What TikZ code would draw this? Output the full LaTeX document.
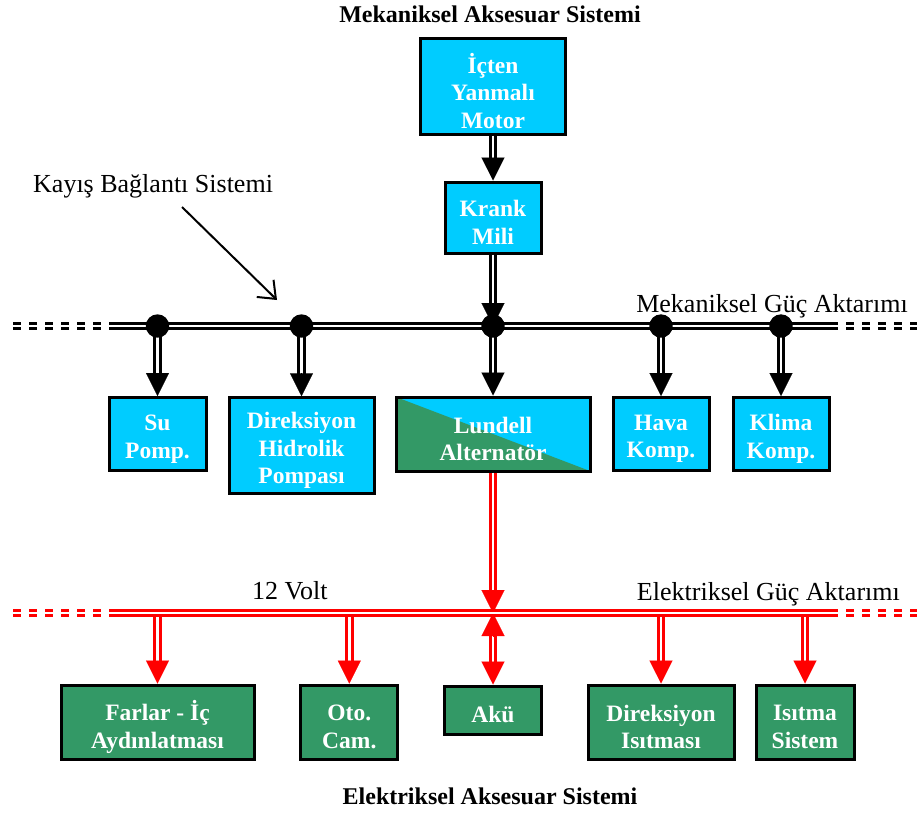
\documentclass[tikz,border=0pt]{standalone}
\usepackage{fontspec}
\setmainfont{Liberation Serif}
\usetikzlibrary{arrows.meta,calc}
\definecolor{cyanc}{RGB}{0,204,255}
\definecolor{greenc}{RGB}{51,153,102}
\newcommand\boxfont{\bfseries\fontsize{23.5}{27.5}\selectfont}
\newcommand\titlefont{\bfseries\fontsize{24}{28}\selectfont}
\newcommand\labfont{\fontsize{26}{30}\selectfont}
\newcommand\myarrow[3]{%
  \draw[#1line, shorten >=21pt] (#2) -- (#3);
  \draw[#1head] ($(#3)!23pt!(#2)$) -- (#3);}
\tikzset{
  box/.style={draw=black, line width=3pt, fill=cyanc, inner sep=0pt},
  gbox/.style={box, fill=greenc},
  btxt/.style={text=white, font=\boxfont, align=center, inner sep=0pt},
  mline/.style={draw=black, double=white, line width=2.8pt, double distance=2.8pt},
  eline/.style={draw=red, double=white, line width=2.8pt, double distance=2.8pt},
  mdash/.style={mline, dash pattern=on 7.5pt off 8.5pt},
  edash/.style={eline, dash pattern=on 7.5pt off 8.5pt},
  mhead/.style={draw=black, fill=black, line width=0.1pt, -{Triangle[width=23pt,length=23pt]}},
  ehead/.style={draw=red, fill=red, line width=0.1pt, -{Triangle[width=23pt,length=23pt]}},
  dot/.style={circle, fill=black, inner sep=0pt, minimum size=23.4pt},
  lab/.style={font=\labfont, inner sep=0pt},
  ttl/.style={font=\titlefont, inner sep=0pt, anchor=base}
}
\begin{document}
\begin{tikzpicture}[x=1pt,y=-1pt]
\useasboundingbox (0,0) rectangle (917,814);

% titles and labels
\node[ttl] (t1) at (490,22) {Mekaniksel Aksesuar Sistemi};
\node[ttl] (t2) at (490,804) {Elektriksel Aksesuar Sistemi};
\node[lab, anchor=base east] (mg) at (908,312) {Mekaniksel Güç Aktarımı};
\node[lab, anchor=base east] (eg) at (900,600) {Elektriksel Güç Aktarımı};
\node[lab, anchor=base west] (v12) at (252,599) {12 Volt};
\node[lab, anchor=base west] (kay) at (33,192) {Kayış Bağlantı Sistemi};
\coordinate (ka1) at (182,207);
\coordinate (ka2) at (277,300);
\draw[line width=2pt, -{Straight Barb[length=15pt,width=24pt]}] (ka1) -- (ka2);

% upper boxes
\node[box, minimum width=145pt, minimum height=96pt] (motor) at (493,86) {};
\node[box, minimum width=96pt, minimum height=71pt] (krank) at (493,217.5) {};
\node[box, minimum width=97pt, minimum height=73pt] (su) at (157.5,434) {};
\node[box, minimum width=145pt, minimum height=95.5pt] (dir) at (301.5,445.5) {};
\node[box, minimum width=194pt, minimum height=74pt,
  path picture={\fill[greenc] (path picture bounding box.north west) -- (path picture bounding box.south west) -- (path picture bounding box.south east) -- cycle;}]
  (lund) at (493,434) {};
\node[box, minimum width=96pt, minimum height=73pt] (hava) at (661,434) {};
\node[box, minimum width=96pt, minimum height=73pt] (klima) at (781,434) {};

% lower boxes
\node[gbox, minimum width=193pt, minimum height=74pt] (far) at (157.5,722) {};
\node[gbox, minimum width=97pt, minimum height=74pt] (oto) at (349.3,722) {};
\node[gbox, minimum width=97pt, minimum height=48pt] (aku) at (493,710) {};
\node[gbox, minimum width=146pt, minimum height=74pt] (dis) at (661,722) {};
\node[gbox, minimum width=98pt, minimum height=74pt] (isi) at (805,722) {};

% box texts
\node[btxt] (motorT) at ([yshift=-5pt]motor.center) {İçten\\Yanmalı\\Motor};
\node[btxt] (krankT) at ([yshift=-5pt]krank.center) {Krank\\Mili};
\node[btxt] (suT) at ([yshift=-5pt]su.center) {Su\\Pomp.};
\node[btxt] (dirT) at ([yshift=-5pt]dir.center) {Direksiyon\\Hidrolik\\Pompası};
\node[btxt] (lundT) at ([yshift=-5pt]lund.center) {Lundell\\Alternatör};
\node[btxt] (havaT) at ([yshift=-5pt]hava.center) {Hava\\Komp.};
\node[btxt] (klimaT) at ([yshift=-5pt]klima.center) {Klima\\Komp.};
\node[btxt] (farT) at ([yshift=-5pt]far.center) {Farlar - İç\\Aydınlatması};
\node[btxt] (otoT) at ([yshift=-5pt]oto.center) {Oto.\\Cam.};
\node[btxt] (akuT) at ([yshift=-4.5pt]aku.center) {Akü};
\node[btxt] (disT) at ([yshift=-5pt]dis.center) {Direksiyon\\Isıtması};
\node[btxt] (isiT) at ([yshift=-5pt]isi.center) {Isıtma\\Sistem};

% mechanical bus points
\coordinate (p1) at (157.5,326);
\coordinate (p2) at (301.5,326);
\coordinate (p3) at (493,326);
\coordinate (p4) at (661,326);
\coordinate (p5) at (781,326);
\coordinate (mL0) at (13,326);
\coordinate (mL1) at (110,326);
\coordinate (mR1) at (830,326);
\coordinate (mR0) at (917,326);

\myarrow{m}{motor.south}{krank.north}
\myarrow{m}{p1}{su.north}
\myarrow{m}{p2}{dir.north}
\myarrow{m}{p3}{lund.north}
\myarrow{m}{p4}{hava.north}
\myarrow{m}{p5}{klima.north}
\myarrow{m}{krank.south}{p3}

\draw[mline] (mL1) -- (mR1);
\draw[mdash] (mL0) -- (mL1);
\draw[mdash] (mR1) -- (mR0);
\foreach \i in {1,...,5} \node[dot] (d\i) at (p\i) {};

% electrical bus points
\coordinate (e1) at (157.5,613);
\coordinate (e2) at (349.3,613);
\coordinate (e3) at (493,613);
\coordinate (e4) at (661,613);
\coordinate (e5) at (805,613);
\coordinate (eL0) at (13,613);
\coordinate (eL1) at (110,613);
\coordinate (eR1) at (830,613);
\coordinate (eR0) at (917,613);

\myarrow{e}{lund.south}{e3}
\myarrow{e}{e1}{far.north}
\myarrow{e}{e2}{oto.north}
\myarrow{e}{e4}{dis.north}
\myarrow{e}{e5}{isi.north}
\draw[eline, shorten <=21pt, shorten >=21pt] (e3) -- (aku.north);
\draw[ehead] ($(e3)!23pt!(aku.north)$) -- (e3);
\draw[ehead] ($(aku.north)!23pt!(e3)$) -- (aku.north);

\draw[eline] (eL1) -- (eR1);
\draw[edash] (eL0) -- (eL1);
\draw[edash] (eR1) -- (eR0);
\end{tikzpicture}
\end{document}
